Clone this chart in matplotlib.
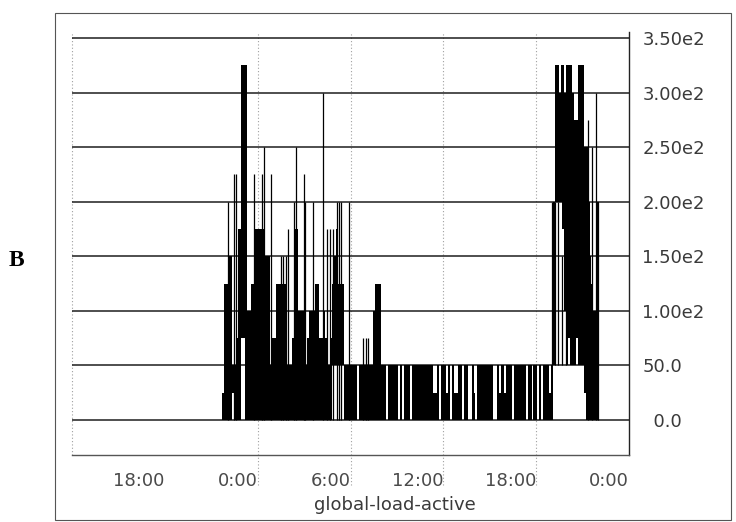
import numpy as np
import matplotlib
matplotlib.use("Agg")
import matplotlib.pyplot as plt
from matplotlib.patches import Rectangle

# signal levels are multiples of 25; one sample every 7.5 minutes
STEP = 25
T0 = 9.7      # first sample, hours after 12:00 of day one (21:42)
DT = 0.125

# night burst, 21:42 -> ~5:40 (upper / lower envelope, in units of 25)
night_hi = [1, 5, 5, 6, 6, 2, 2, 3, 7, 7,
            13, 13, 13, 4, 4, 5, 5, 7, 7, 7,
            7, 7, 6, 6, 6, 2, 3, 3, 5, 5,
            5, 5, 5, 2, 2, 2, 3, 7, 7, 4,
            4, 4, 4, 2, 3, 4, 4, 4, 5, 5,
            3, 3, 4, 3, 2, 2, 3, 5, 6, 7,
            5, 5, 5, 2]
night_lo = [0, 0, 0, 0, 0, 1, 0, 0, 0, 0,
            3, 3, 0, 0, 0, 0, 0, 0, 0, 0,
            0, 0, 0, 0, 0, 0, 0, 0, 0, 0,
            0, 0, 0, 0, 0, 0, 0, 0, 0, 0,
            0, 0, 0, 0, 0, 0, 0, 0, 0, 0,
            0, 0, 0, 0, 0, 0, 0, 2, 2, 2,
            2, 2, 2, 0]

# daytime plateau, ~5:40 -> ~19:00 (lower envelope is 0)
day_hi = [2, 2, 2, 2, 2, 2, 0, 2, 2, 2,
          2, 2, 2, 2, 4, 5, 5, 5, 2, 2,
          2, 0, 2, 2, 2, 2, 2, 0, 2, 0,
          2, 2, 2, 0, 2, 2, 2, 2, 2, 2,
          2, 2, 2, 2, 2, 1, 1, 2, 0, 2,
          2, 2, 1, 2, 0, 2, 1, 1, 2, 2,
          0, 2, 2, 0, 0, 2, 1, 0, 2, 2,
          2, 2, 2, 2, 2, 2, 0, 0, 2, 1,
          2, 2, 1, 2, 2, 2, 0, 2, 2, 2,
          2, 2, 2, 0, 2, 2, 0, 2, 2, 0,
          2, 0, 2, 2, 2, 1, 2]

# evening burst, ~19:00 -> ~22:00
evening_hi = [8, 13, 13, 12, 13, 13, 12, 13, 13, 13, 12, 11,
              11, 13, 13, 13, 10, 10, 8, 6, 5, 4, 4, 8]
evening_lo = [2, 8, 8, 8, 8, 7, 4, 2, 3, 2, 2, 2,
              3, 2, 2, 2, 1, 0, 0, 0, 0, 0, 0, 0]

# single-sample spikes (hours, low, high in units of 25)
spike_t = [10.08, 10.47, 10.60, 11.76, 12.28, 12.41, 12.86, 13.51, 13.64,
           13.83, 13.96, 14.35, 14.48, 15.00, 15.06, 15.58, 16.23, 16.48,
           16.68, 16.87, 17.13, 17.26, 17.39, 17.91, 18.81, 19.00, 19.13,
           31.03, 31.22, 31.42, 31.67, 31.93, 33.36, 33.61, 33.87, 34.00]
spike_lo = [0] * 27 + [2, 2, 2, 2, 2, 0, 0, 0, 0]
spike_hi = [8, 9, 9, 9, 9, 10, 9, 6, 6,
            6, 7, 8, 10, 9, 8, 8, 12, 7,
            7, 7, 8, 8, 8, 8, 3, 3, 3,
            8, 8, 8, 6, 12, 11, 10, 12, 8]

x_ticks = [6, 12, 18, 24, 30, 36]
x_labels = ["18:00", "0:00", "6:00", "12:00", "18:00", "0:00"]
y_ticks = [0, 50, 100, 150, 200, 250, 300, 350]
y_labels = ["\u20070.0", "50.0", "1.00e2", "1.50e2", "2.00e2", "2.50e2", "3.00e2", "3.50e2"]

hi = np.array(night_hi + day_hi + evening_hi) * STEP
lo = np.array(night_lo + [0] * len(day_hi) + evening_lo) * STEP
t = T0 + DT * np.arange(len(hi) + 1)
hi = np.append(hi, hi[-1])
lo = np.append(lo, lo[-1])

W, H = 736, 522
fig = plt.figure(figsize=(W / 100, H / 100), dpi=100)
ax = fig.add_axes([72 / W, 1 - 455 / H, (629 - 72) / W, (455 - 32) / H])
ax.set_xlim(0, 36)
ax.set_ylim(-32.1, 355.5)

# horizontal grid and dotted time grid
ax.hlines(y_ticks, 0, 36, color="#1e1e1e", lw=1.1, zorder=1)
ax.plot([0, 0], [0.0, 1.0], transform=ax.get_xaxis_transform(), clip_on=False,
        color="#a0a0a0", lw=0.8, ls=(0, (1, 2)), zorder=0)
for x in x_ticks[1:-1]:
    ax.plot([x, x], [-0.07, 1.0], transform=ax.get_xaxis_transform(), clip_on=False,
            color="#a0a0a0", lw=0.8, ls=(0, (1, 2)), zorder=0)

# the signal: filled band between the low and high envelope, plus thin spikes
ax.fill_between(t, lo, hi, step="post", color="black", linewidth=0, zorder=2)
ax.vlines(spike_t, np.array(spike_lo) * STEP, np.array(spike_hi) * STEP,
          color="black", lw=0.9, zorder=2)

# axes styling
for side in ["left", "top"]:
    ax.spines[side].set_visible(False)
ax.spines["right"].set_color("#222222")
ax.spines["bottom"].set_color("#555555")
ax.spines["right"].set_linewidth(1.0)
ax.spines["bottom"].set_linewidth(1.0)

ax.yaxis.tick_right()
ax.set_yticks(y_ticks)
ax.set_yticklabels(y_labels)
ax.set_xticks(x_ticks)
ax.set_xticklabels(x_labels)
ax.tick_params(axis="y", length=0, pad=9.5, labelsize=13, labelcolor="#3a3a3a")
ax.tick_params(axis="x", length=0, pad=12, labelsize=13, labelcolor="#4a4a4a")
for lab in ax.get_xticklabels():
    lab.set_ha("right")

ax.set_xlabel("global-load-active", fontsize=13, color="#3a3a3a")
ax.xaxis.set_label_coords((395 - 72) / 557, (455 - 505) / 423)
ax.xaxis.label.set_va("center")

# panel letter and outer frame
fig.text(16 / W, 1 - 260 / H, "B", family="Liberation Serif", weight="bold",
         size=17, ha="center", va="center")
fig.patches.append(Rectangle((55 / W, 1 - 520 / H), (731 - 55) / W, (520 - 13) / H,
                             transform=fig.transFigure, fill=False,
                             edgecolor="#555555", lw=0.8))

fig.savefig("out.png", dpi=100)
